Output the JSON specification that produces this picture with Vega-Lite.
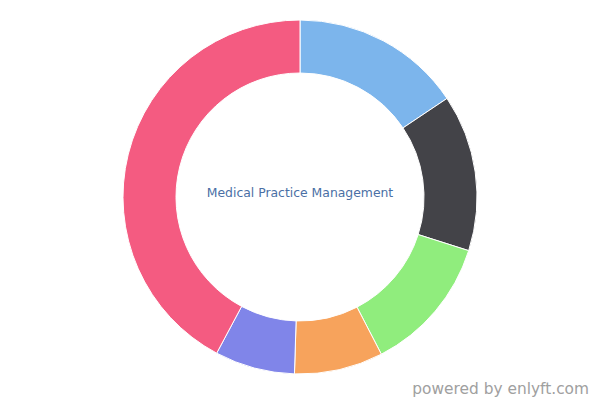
{
  "$schema": "https://vega.github.io/schema/vega-lite/v6.json",
  "autosize": "none",
  "width": 600,
  "height": 394,
  "padding": {"left": 0, "right": 0, "top": 0, "bottom": 6},
  "background": "white",
  "view": {"stroke": null},
  "layer": [
    {
      "data": {"values": [
        {"idx": 1, "name": "A", "value": 15.6},
        {"idx": 2, "name": "B", "value": 14.3},
        {"idx": 3, "name": "C", "value": 12.5},
        {"idx": 4, "name": "D", "value": 8.1},
        {"idx": 5, "name": "E", "value": 7.3},
        {"idx": 6, "name": "F", "value": 42.2}
      ]},
      "mark": {"type": "arc", "outerRadius": 177, "innerRadius": 124, "stroke": "white", "strokeWidth": 1},
      "encoding": {
        "theta": {"field": "value", "type": "quantitative", "stack": true},
        "order": {"field": "idx", "type": "quantitative"},
        "color": {
          "field": "name", "type": "nominal", "legend": null,
          "scale": {"domain": ["A", "B", "C", "D", "E", "F"], "range": ["#7cb5ec", "#434348", "#90ed7d", "#f7a35c", "#8085e9", "#f45b81"]}
        }
      }
    },
    {
      "data": {"values": [{"label": "Medical Practice Management"}]},
      "mark": {"type": "text", "x": {"expr": "width/2"}, "y": {"expr": "height/2 - 4"}, "align": "center", "baseline": "middle", "font": "DejaVu Sans", "fontSize": 12.4, "color": "#4a6fa5"},
      "encoding": {"text": {"field": "label"}}
    },
    {
      "data": {"values": [{"label": "powered by enlyft.com"}]},
      "mark": {"type": "text", "x": {"expr": "width - 11"}, "y": {"expr": "height - 5"}, "align": "right", "baseline": "middle", "font": "DejaVu Sans", "fontSize": 15.4, "color": "#a0a0a0"},
      "encoding": {"text": {"field": "label"}}
    }
  ]
}
